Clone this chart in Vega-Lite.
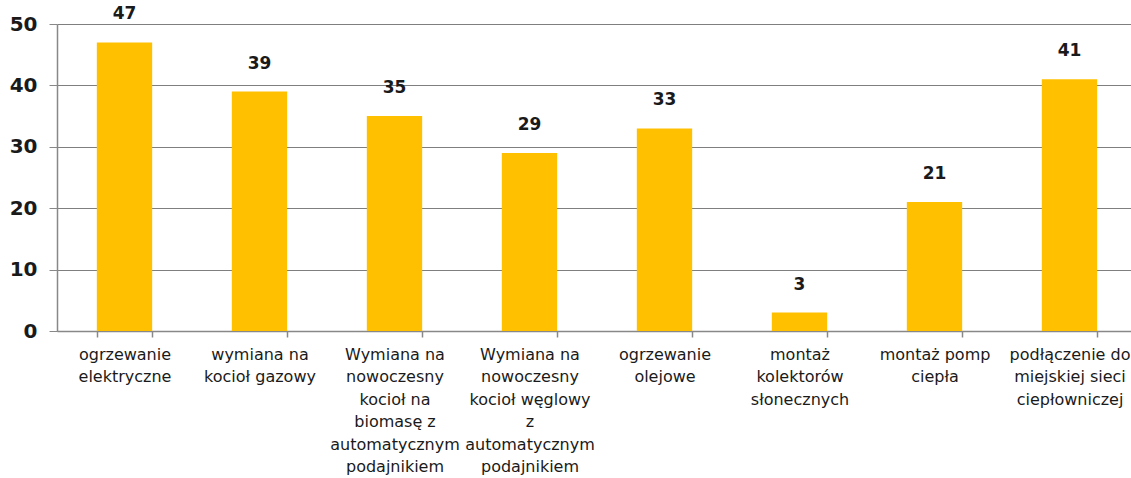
{
  "$schema": "https://vega.github.io/schema/vega-lite/v6.json",
  "width": 1080,
  "height": 307,
  "autosize": {"type": "none"},
  "padding": {"left": 57, "top": 24, "right": 0, "bottom": 147},
  "background": "white",
  "config": {"view": {"stroke": null}},
  "data": {
    "values": [
      {"cat": "ogrzewanie|elektryczne", "v": 47},
      {"cat": "wymiana na|kocioł gazowy", "v": 39},
      {"cat": "Wymiana na|nowoczesny|kocioł na|biomasę z|automatycznym|podajnikiem", "v": 35},
      {"cat": "Wymiana na|nowoczesny|kocioł węglowy|z|automatycznym|podajnikiem", "v": 29},
      {"cat": "ogrzewanie|olejowe", "v": 33},
      {"cat": "montaż|kolektorów|słonecznych", "v": 3},
      {"cat": "montaż pomp|ciepła", "v": 21},
      {"cat": "podłączenie do|miejskiej sieci|ciepłowniczej", "v": 41}
    ]
  },
  "encoding": {
    "x": {
      "field": "cat",
      "type": "nominal",
      "sort": null,
      "scale": {"paddingInner": 0.59, "paddingOuter": 0.295},
      "axis": {
        "title": null,
        "labelAngle": 0,
        "labelExpr": "isString(datum.value) ? split(datum.value, '|') : ''",
        "labelFont": "DejaVu Sans",
        "labelFontSize": 16,
        "labelLineHeight": 22.5,
        "labelColor": "#1a1a1a",
        "labelBaseline": "top",
        "labelPadding": 9,
        "labelLimit": 300,
        "tickBand": "extent",
        "tickSize": 6,
        "tickColor": "#888888",
        "tickWidth": 1.5,
        "domainColor": "#888888",
        "domainWidth": 1.5,
        "grid": false
      }
    },
    "y": {
      "field": "v",
      "type": "quantitative",
      "scale": {"domain": [0, 50], "nice": false},
      "axis": {
        "title": null,
        "values": [0, 10, 20, 30, 40, 50],
        "grid": true,
        "gridColor": "#7f7f7f",
        "gridWidth": 1.2,
        "domainColor": "#888888",
        "domainWidth": 1.5,
        "tickColor": "#888888",
        "tickSize": 8,
        "labelFont": "DejaVu Sans",
        "labelFontSize": 20,
        "labelFontWeight": "bold",
        "labelColor": "#1a1a1a",
        "labelPadding": 12
      }
    }
  },
  "layer": [
    {"mark": {"type": "bar", "color": "#FFC000"}},
    {
      "mark": {
        "type": "text",
        "dy": -28,
        "baseline": "middle",
        "font": "DejaVu Sans",
        "fontSize": 17,
        "fontWeight": "bold",
        "color": "#1a1a1a"
      },
      "encoding": {"text": {"field": "v", "type": "quantitative"}}
    }
  ]
}
